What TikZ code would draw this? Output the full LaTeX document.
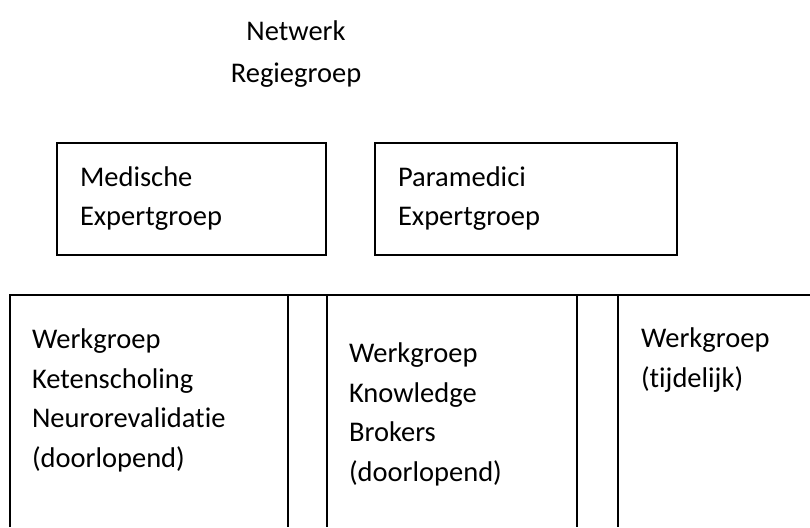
\documentclass[tikz,border=0pt]{standalone}
\usepackage{fontspec}
\setmainfont{Carlito}[Ligatures=NoCommon]
\begin{document}
\begin{tikzpicture}[x=1pt,y=-1pt,line width=2pt]
\tikzset{groepbox/.style={draw, align=left, inner xsep=23pt, inner ysep=0pt,
  minimum height=112pt, font=\fontsize{28.5}{39}\selectfont},
  kolomtekst/.style={align=left, anchor=north west, inner sep=0pt,
  font=\fontsize{28.5}{39.5}\selectfont}}
\useasboundingbox (0,0) rectangle (810,527);
\node[align=center, anchor=north, inner sep=0pt, font=\fontsize{28.5}{42}\selectfont] (regie) at (296,20) {Netwerk\\Regiegroep};
\node[groepbox, text width=223pt] (medisch) at (191.5,199) {Medische\\Expertgroep};
\node[groepbox, text width=256pt] (para) at (526,199) {Paramedici\\Expertgroep};
\draw (10,527) -- (10,295) -- (810,295);
\foreach \x in {288,327,577,618}
  \draw (\x,295) -- (\x,527);
\node[kolomtekst] (keten) at (31,328) {Werkgroep\\Ketenscholing\\Neurorevalidatie\\(doorlopend)};
\node[kolomtekst] (brokers) at (348,342) {Werkgroep\\Knowledge\\Brokers\\(doorlopend)};
\node[kolomtekst] (tijdelijk) at (640,327) {Werkgroep\\(tijdelijk)};
\end{tikzpicture}
\end{document}
